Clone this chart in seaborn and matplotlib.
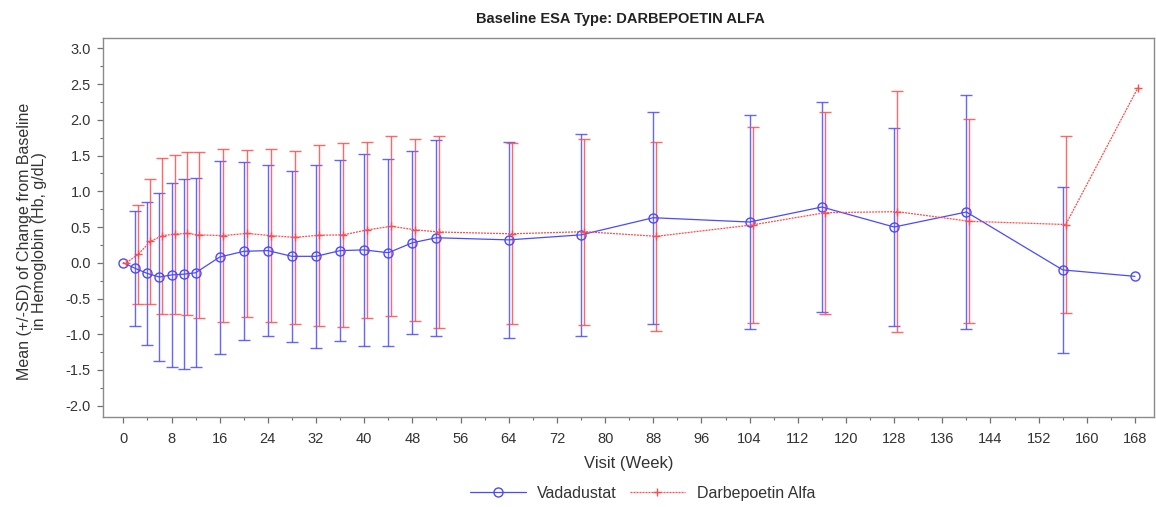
import numpy as np
import pandas as pd
import matplotlib
matplotlib.use("Agg")
import matplotlib.pyplot as plt
from matplotlib.lines import Line2D
from matplotlib.ticker import MultipleLocator, FormatStrFormatter
import seaborn as sns

# Visit weeks and summary statistics (mean and SD of change from baseline, g/dL)
weeks = [0, 2, 4, 6, 8, 10, 12, 16, 20, 24, 28, 32, 36, 40, 44, 48, 52,
         64, 76, 88, 104, 116, 128, 140, 156, 168]

vada_mean = [0.00, -0.08, -0.15, -0.20, -0.17, -0.16, -0.14, 0.08, 0.16, 0.17,
             0.09, 0.09, 0.17, 0.18, 0.14, 0.28, 0.35, 0.32, 0.39, 0.63,
             0.57, 0.78, 0.50, 0.71, -0.10, -0.19]
vada_sd = [np.nan, 0.81, 1.00, 1.18, 1.29, 1.33, 1.32, 1.35, 1.245, 1.20,
           1.20, 1.28, 1.27, 1.34, 1.31, 1.28, 1.37, 1.37, 1.415, 1.485,
           1.50, 1.47, 1.38, 1.635, 1.165, np.nan]

darb_mean = [0.00, 0.12, 0.30, 0.38, 0.40, 0.41, 0.39, 0.38, 0.41, 0.38,
             0.355, 0.385, 0.39, 0.46, 0.51, 0.46, 0.43, 0.405, 0.435, 0.37,
             0.53, 0.70, 0.715, 0.58, 0.535, 2.45]
darb_sd = [np.nan, 0.69, 0.87, 1.09, 1.11, 1.14, 1.16, 1.21, 1.17, 1.21,
           1.21, 1.265, 1.29, 1.23, 1.26, 1.27, 1.34, 1.265, 1.30, 1.32,
           1.37, 1.41, 1.69, 1.425, 1.24, np.nan]

groups = ["Vadadustat", "Darbepoetin Alfa"]
colors = {"Vadadustat": "#4a4aff", "Darbepoetin Alfa": "#ff4d4d"}
markers = {"Vadadustat": "o", "Darbepoetin Alfa": "+"}
marker_sizes = {"Vadadustat": 6.5, "Darbepoetin Alfa": 6.0}
linestyles = {"Vadadustat": "-", "Darbepoetin Alfa": (0, (1.6, 0.8))}
# small horizontal cluster offset so the two groups' bars don't overlap
offsets = {"Vadadustat": 0.0, "Darbepoetin Alfa": 0.5}

df = pd.concat([
    pd.DataFrame({"week": weeks, "mean": vada_mean, "sd": vada_sd, "group": groups[0]}),
    pd.DataFrame({"week": weeks, "mean": darb_mean, "sd": darb_sd, "group": groups[1]}),
], ignore_index=True)
df["xpos"] = df["week"] + df["group"].map(offsets)

sns.set_theme(style="ticks")
plt.rcParams["font.family"] = ["Liberation Sans", "DejaVu Sans"]

fig = plt.figure(figsize=(11.56, 5.07), dpi=100)
ax = fig.add_axes([0.0894, 0.178, 0.9091, 0.7465])

for g in groups:
    sub = df[df["group"] == g]
    # SD error bars
    ax.errorbar(sub["xpos"], sub["mean"], yerr=sub["sd"], fmt="none",
                ecolor=colors[g], elinewidth=1.0, capsize=4.2, capthick=1.0,
                alpha=0.85, zorder=2)
    # mean profile
    sns.lineplot(data=sub, x="xpos", y="mean", color=colors[g],
                 marker=markers[g], linestyle=linestyles[g],
                 markersize=marker_sizes[g], markerfacecolor="none",
                 markeredgecolor=colors[g], markeredgewidth=1.0,
                 linewidth=0.9, ax=ax, zorder=3, estimator=None, sort=False)

ax.set_xlim(-3.32, 171.2)
ax.set_ylim(-2.154, 3.14)
ax.xaxis.set_major_locator(MultipleLocator(8))
ax.xaxis.set_minor_locator(MultipleLocator(4))
ax.yaxis.set_major_locator(MultipleLocator(0.5))
ax.yaxis.set_minor_locator(MultipleLocator(0.25))
ax.yaxis.set_major_formatter(FormatStrFormatter("%.1f"))

frame_col = "#8a8a8a"
for s in ax.spines.values():
    s.set_visible(True)
    s.set_color(frame_col)
    s.set_linewidth(1.0)
ax.tick_params(which="major", direction="out", length=4.5, width=0.9,
               color="#707070", labelsize=10.5, labelcolor="#333333")
ax.tick_params(axis="x", which="major", pad=6.5)
ax.tick_params(axis="y", which="major", pad=4.5)
ax.tick_params(which="minor", direction="out", length=2.5, width=0.8,
               color="#707070")

ax.set_xlabel("Visit (Week)", fontsize=12, color="#333333", labelpad=7)
ax.set_ylabel("Mean (+/-SD) of Change from Baseline\nin Hemoglobin (Hb, g/dL)",
              fontsize=11.5, color="#333333", linespacing=0.98)
ax.yaxis.set_label_coords(-0.054, 0.464)

ax.text(0.492, 1.05, "Baseline ESA Type: DARBEPOETIN ALFA", transform=ax.transAxes,
        ha="center", va="center", fontsize=10.5, fontweight="bold", color="#222222")

handles = [Line2D([], [], color=colors[g], linestyle=linestyles[g], linewidth=0.9,
                  marker=markers[g], markersize=marker_sizes[g],
                  markerfacecolor="none", markeredgewidth=1.0) for g in groups]
leg = ax.legend(handles, groups, loc="center", bbox_to_anchor=(0.513, -0.203),
                ncol=2, frameon=False, fontsize=11.5, handlelength=3.5,
                columnspacing=0.8, handletextpad=0.7)
for t in leg.get_texts():
    t.set_color("#333333")

fig.savefig("out.png", dpi=100)
